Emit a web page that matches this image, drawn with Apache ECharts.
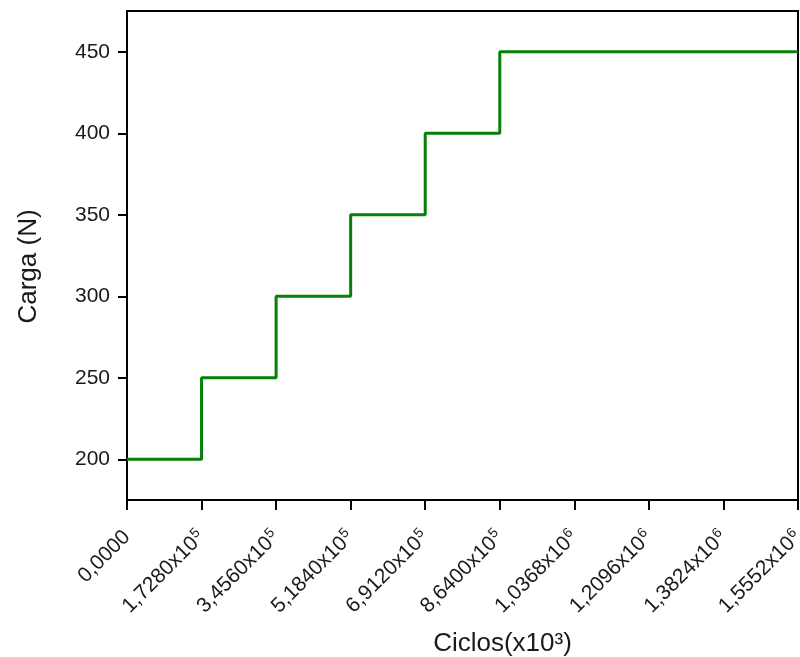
<!DOCTYPE html>
<html><head><meta charset="utf-8">
<script src="https://cdn.jsdelivr.net/npm/echarts@6/dist/echarts.min.js"></script>
<style>html,body{margin:0;padding:0;background:#fff}#c{width:800px;height:657px}</style>
</head><body><div id="c"></div>
<script>
const cycles = [0, 172800, 345600, 518400, 691200, 864000, 1555200];
const loads = [200, 250, 300, 350, 400, 450, 450];
const xTicks = [0, 172800, 345600, 518400, 691200, 864000, 1036800, 1209600, 1382400, 1555200];
const xTickMantissa = ['0,0000','1,7280','3,4560','5,1840','6,9120','8,6400','1,0368','1,2096','1,3824','1,5552'];
const xTickExp = ['', '5','5','5','5','5','6','6','6','6'];
const yTicks = [200, 250, 300, 350, 400, 450];

const chart = echarts.init(document.getElementById('c'));
const F = 'Liberation Sans, Arial, sans-serif';
chart.setOption({
  animation: false,
  grid: {left: 127, right: 2, top: 11, bottom: 157, show: true, borderColor: '#000', borderWidth: 2,
         backgroundColor: 'transparent', outerBoundsMode: 'none', containLabel: false},
  xAxis: {
    type: 'value', min: 0, max: 1555200,
    name: 'Ciclos(x10³)', nameLocation: 'middle', nameGap: 131,
    nameTextStyle: {fontFamily: F, fontSize: 26, color: '#1a1a1a', padding: [0, 0, 0, 80]},
    axisLine: {show: true, lineStyle: {color: '#000', width: 2}},
    axisTick: {show: true, inside: false, length: 10, lineStyle: {color: '#000', width: 2}, customValues: xTicks},
    splitLine: {show: false},
    axisLabel: {
      customValues: xTicks, rotate: 45, margin: 34, fontFamily: F, fontSize: 21, color: '#1a1a1a',
      hideOverlap: false,
      formatter: function (v) {
        const i = xTicks.indexOf(v);
        if (i < 0) return '';
        if (!xTickExp[i]) return '{b|' + xTickMantissa[i] + '}';
        return '{b|' + xTickMantissa[i] + 'x10}{s|' + xTickExp[i] + '}';
      },
      rich: {
        b: {fontFamily: F, fontSize: 21, color: '#1a1a1a'},
        s: {fontFamily: F, fontSize: 14, color: '#1a1a1a', verticalAlign: 'bottom', padding: [0, 0, 10, 1]}
      }
    }
  },
  yAxis: {
    type: 'value', min: 175, max: 475,
    name: 'Carga (N)', nameLocation: 'middle', nameGap: 85,
    nameTextStyle: {fontFamily: F, fontSize: 26, color: '#1a1a1a', padding: [0, 22, 0, 0]},
    axisLine: {show: true, lineStyle: {color: '#000', width: 2}},
    axisTick: {show: true, inside: false, length: 9, lineStyle: {color: '#000', width: 2}, customValues: yTicks},
    splitLine: {show: false},
    axisLabel: {customValues: yTicks, margin: 17, fontFamily: F, fontSize: 21, color: '#1a1a1a'}
  },
  series: [{
    type: 'line', step: 'end', data: cycles.map((c, i) => [c, loads[i]]),
    showSymbol: false, lineStyle: {color: '#078007', width: 3}, clip: false
  }]
});
</script></body></html>
